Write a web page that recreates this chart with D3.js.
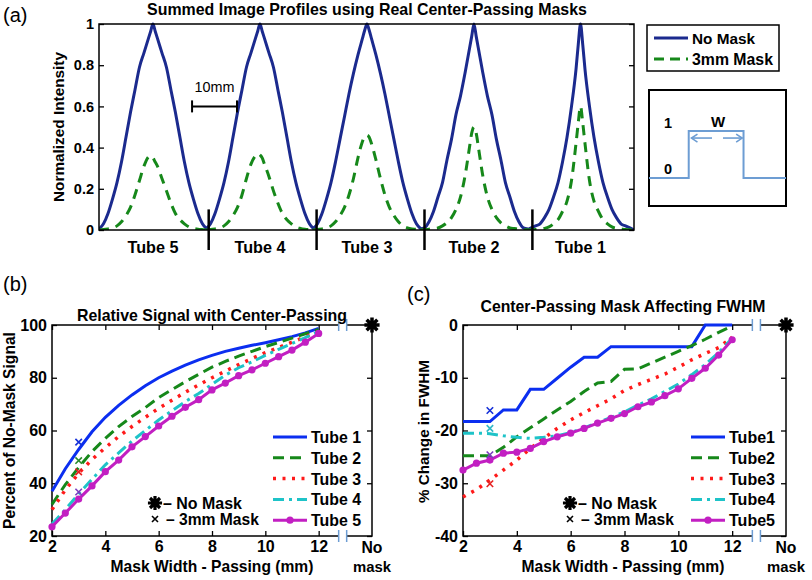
<!DOCTYPE html>
<html><head><meta charset="utf-8">
<script src="https://cdn.jsdelivr.net/npm/d3@7"></script>
<style>
body{margin:0;background:#fff;}
svg{display:block;font-family:"Liberation Sans",Arial,Helvetica,sans-serif;}
</style></head><body>
<svg id="chart" width="812" height="580"></svg>
<script>
// ---------------- DATA ----------------
// Panel (a): summed image profiles (offset from each tube centre, mm)
const profileOffsets = [-12,-11,-10,-9,-8,-7,-6,-5,-4,-3,-2,-1,-0.5,0,0.5,1,2,3,4,5,6,7,8,9,10,11,12];
const tubeNamesA = ["Tube 5","Tube 4","Tube 3","Tube 2","Tube 1"];
const tubeCentersA = [12, 35.8, 59.6, 83.4, 107.1];
const separatorsA = [24.4, 48.4, 72.4, 96.4];
const noMaskT5 = [0.005,0.03,0.08,0.15,0.23,0.33,0.45,0.57,0.68,0.79,0.86,0.93,0.965,1.0,0.965,0.93,0.86,0.79,0.68,0.57,0.45,0.33,0.23,0.15,0.08,0.03,0.005];
const noMaskT4 = [0.005,0.03,0.08,0.15,0.23,0.33,0.45,0.57,0.68,0.79,0.86,0.93,0.965,1.0,0.965,0.93,0.86,0.79,0.68,0.57,0.45,0.33,0.23,0.15,0.08,0.03,0.005];
const noMaskT3 = [0.005,0.03,0.08,0.15,0.23,0.33,0.44,0.55,0.66,0.76,0.85,0.93,0.97,1.0,0.97,0.93,0.85,0.76,0.66,0.55,0.44,0.33,0.23,0.15,0.08,0.03,0.005];
const noMaskT2 = [0.005,0.01,0.04,0.09,0.16,0.23,0.34,0.44,0.56,0.65,0.76,0.88,0.94,1.0,0.94,0.88,0.76,0.65,0.56,0.44,0.34,0.23,0.16,0.09,0.04,0.01,0.005];
const noMaskT1 = [0.0,0.01,0.02,0.03,0.06,0.1,0.16,0.23,0.33,0.45,0.6,0.78,0.9,1.0,0.9,0.78,0.6,0.45,0.33,0.23,0.16,0.1,0.06,0.03,0.02,0.01,0.0];
const mask3T5 = [0,0.003,0.005,0.01,0.02,0.04,0.07,0.11,0.17,0.24,0.31,0.355,0.36,0.35,0.33,0.31,0.25,0.19,0.13,0.08,0.05,0.03,0.015,0.008,0.004,0.002,0];
const mask3T4 = [0,0.003,0.005,0.01,0.02,0.04,0.07,0.11,0.17,0.25,0.32,0.36,0.37,0.365,0.35,0.32,0.26,0.19,0.13,0.08,0.05,0.03,0.015,0.008,0.004,0.002,0];
const mask3T3 = [0,0.003,0.005,0.01,0.02,0.04,0.07,0.11,0.17,0.25,0.35,0.43,0.455,0.46,0.45,0.42,0.34,0.25,0.17,0.11,0.07,0.04,0.02,0.01,0.005,0.003,0];
const mask3T2 = [0,0.002,0.004,0.007,0.01,0.02,0.035,0.06,0.1,0.16,0.26,0.4,0.47,0.5,0.47,0.4,0.26,0.16,0.1,0.06,0.035,0.02,0.01,0.007,0.004,0.002,0];
const mask3T1 = [0,0.001,0.002,0.005,0.008,0.015,0.03,0.05,0.09,0.14,0.24,0.42,0.52,0.6,0.52,0.42,0.24,0.14,0.09,0.05,0.03,0.015,0.008,0.005,0.002,0.001,0];
const yTicksA = [0,0.2,0.4,0.6,0.8,1];
const scaleBarMm = [20.7, 30.7];
const scaleBarLevel = 0.6;
const legendA = ["No Mask","3mm Mask"];
// inset: mask transmission profile
const maskProfileX = [0,0.29,0.29,0.69,0.69,1];
const maskProfileY = [0,0,1,1,0,0];

// Panels (b),(c)
const widths = [2,2.5,3,3.5,4,4.5,5,5.5,6,6.5,7,7.5,8,8.5,9,9.5,10,10.5,11,11.5,12];
const signalT1 = [37,45.5,52.8,59.5,65,69.5,73.5,77,80,82.5,84.8,86.8,88.5,90,91.2,92.3,93.3,94.4,95.6,97,98.7];
const signalT2 = [32,39.5,46,52,57,61.5,65.3,68.7,72.5,75.5,78.5,81.3,84,86.2,88.2,90,91.8,93.4,95,96.7,98.3];
const signalT3 = [30,37.5,43.8,49,53.5,57.7,61.5,65,68.4,71.5,74.5,77.3,80,82.5,85,87.3,89.5,91.5,93.5,95.5,97.5];
const signalT4 = [24.5,30,36,41.5,47,51.5,56,60,64,67.5,71,74,77.5,81,83.8,86,88.5,90.8,93,95.2,97.5];
const signalT5 = [23.5,28.7,34,39,44.4,48.8,53.8,57.7,61.7,65.4,68.8,71.7,75.4,78,80.8,83,85.5,88,90.5,93.5,96.8];
const fwhmT1 = [-18.3,-18.3,-18.3,-16.1,-16.1,-12.2,-12.2,-10.1,-8.0,-6.1,-6.1,-4.1,-4.1,-4.1,-4.1,-4.1,-4.1,-4.1,0,0,0];
const fwhmT2 = [-24.8,-24.8,-24.8,-23.2,-21.2,-19.5,-17.8,-16.1,-14.5,-12.6,-11,-10.7,-8.4,-8.3,-7.2,-6.1,-5,-3.9,-2.7,-1.4,-0.2];
const fwhmT3 = [-32.6,-31.2,-29.4,-27.5,-25.6,-23.4,-21.5,-19.6,-18,-16.6,-15.3,-14,-12.4,-11.3,-10.3,-9.3,-8,-6.6,-5.4,-4.3,-2.3];
const fwhmT4 = [-20.5,-20.5,-20.6,-21,-21.3,-21.5,-21.3,-21,-20.4,-19.5,-18.5,-17.5,-16.5,-15.2,-14,-12.6,-11.2,-9.4,-7.5,-5.2,-2.5];
const fwhmT5 = [-27.5,-26.2,-25.6,-24.3,-24.1,-23.4,-22.1,-21.2,-20.5,-19.6,-18.6,-17.7,-16.8,-15.5,-14.6,-13.4,-12.1,-10.1,-8.2,-5.7,-2.8];
const mask3mmWidth = 3;
const mask3mmSignal = [55.6, 48.6, 44.3, 36.7];
const mask3mmSignalTube = [0, 1, 2, 4];
const mask3mmFwhm = [-16.2, -19.6, -24.6, -30.1];
const mask3mmFwhmTube = [0, 3, 4, 2];
const noMaskX = 14, noMaskSignal = 100, noMaskFwhm = 0;
const breakAt = [12.75, 13.05];
const xTicksBC = [2,4,6,8,10,12];
const yTicksB = [20,40,60,80,100];
const yTicksC = [-40,-30,-20,-10,0];
const legendB = ["Tube 1","Tube 2","Tube 3","Tube 4","Tube 5"];
const legendC = ["Tube1","Tube2","Tube3","Tube4","Tube5"];

// ---------------- STYLE ----------------
const navy = "#1b2a8e", dGreen = "#16881a";
const tubeColors = ["#0b2ef0","#16881a","#ff1a1a","#1ec3c8","#c21fc2"];
const xMarkColors = ["#1530d8","#2a8a2a","#e62020","#30b8c8","#7a3cc0"];
const tubeDash = [null,"11,6","3,6.5","11,5,3,5",null];
const lightBlue = "#6d9dd3";
const FONT = '"Liberation Sans",Arial,Helvetica,sans-serif';

const svg = d3.select("#chart");

const starSym = {draw(ctx, size){const r=Math.sqrt(size)/2;for(let i=0;i<4;i++){const a=i*Math.PI/4;ctx.moveTo(r*Math.cos(a),r*Math.sin(a));ctx.lineTo(-r*Math.cos(a),-r*Math.sin(a));}}};
const xSym = {draw(ctx, size){const r=Math.sqrt(size)/2;ctx.moveTo(-r,-r);ctx.lineTo(r,r);ctx.moveTo(r,-r);ctx.lineTo(-r,r);}};

function styleAxis(g, fs){
  g.attr("font-family", FONT).attr("font-size", fs).attr("font-weight","bold");
  g.select(".domain").remove();
  g.selectAll(".tick line").attr("stroke","#000").attr("stroke-width",1.3);
  g.selectAll(".tick text").attr("fill","#000");
}
function fit(sel, target){
  const w = sel.node().getComputedTextLength();
  const fs = parseFloat(sel.attr("font-size"));
  if (w > 0) sel.attr("font-size", (fs*target/w).toFixed(2));
  return sel;
}
function txt(x,y,s,fs,opts={}){
  const t = svg.append("text").attr("x",x).attr("y",y).text(s)
    .attr("font-size",fs).attr("font-weight",opts.weight||"bold")
    .attr("text-anchor",opts.anchor||"start").attr("fill",opts.fill||"#000");
  if (opts.w) fit(t, opts.w);
  return t;
}
function vtxt(x,y,s,fs,w){
  const t = svg.append("text").attr("transform",`translate(${x},${y}) rotate(-90)`).attr("text-anchor","middle")
    .attr("font-size",fs).attr("font-weight","bold").text(s);
  if (w) fit(t,w);
  return t;
}

// ================= PANEL (a) =================
const A = {l:99, r:634, t:24, b:230};
const xA = d3.scaleLinear().domain([0,119]).range([A.l,A.r]);
const yA = d3.scaleLinear().domain([0,1]).range([A.b,A.t]);
svg.append("defs").append("clipPath").attr("id","clipA").append("rect")
  .attr("x",A.l).attr("y",A.t-5).attr("width",A.r-A.l).attr("height",A.b-A.t+5);

styleAxis(svg.append("g").attr("transform",`translate(${A.l},0)`)
  .call(d3.axisLeft(yA).tickValues(yTicksA).tickSizeInner(-5).tickSizeOuter(0).tickPadding(5).tickFormat(d=>String(d))), 14.5);
styleAxis(svg.append("g").attr("transform",`translate(${A.r},0)`)
  .call(d3.axisRight(yA).tickValues(yTicksA).tickSizeInner(-5).tickSizeOuter(0).tickFormat("")), 14);

const lineA = d3.line().x(d=>xA(d[0])).y(d=>yA(d[1])).curve(d3.curveMonotoneX);
const noMask = [noMaskT5,noMaskT4,noMaskT3,noMaskT2,noMaskT1];
const mask3 = [mask3T5,mask3T4,mask3T3,mask3T2,mask3T1];
const gA = svg.append("g").attr("clip-path","url(#clipA)");
tubeCentersA.forEach((c,i)=>{
  gA.append("path").attr("d",lineA(profileOffsets.map((o,j)=>[c+o,noMask[i][j]])))
    .attr("fill","none").attr("stroke",navy).attr("stroke-width",3);
});
tubeCentersA.forEach((c,i)=>{
  gA.append("path").attr("d",lineA(profileOffsets.map((o,j)=>[c+o,mask3[i][j]])))
    .attr("fill","none").attr("stroke",dGreen).attr("stroke-width",3).attr("stroke-dasharray","10,7");
});
svg.append("rect").attr("x",A.l).attr("y",A.t).attr("width",A.r-A.l).attr("height",A.b-A.t)
  .attr("fill","none").attr("stroke","#000").attr("stroke-width",1.5);

// separators & tube labels
separatorsA.forEach(s=>{
  svg.append("line").attr("x1",xA(s)).attr("x2",xA(s)).attr("y1",yA(0.1)).attr("y2",yA(0)+20)
    .attr("stroke","#000").attr("stroke-width",2.5);
});
const t5 = txt(xA(tubeCentersA[0]),253,tubeNamesA[0],15,{anchor:"middle", w:51});
const tubeFs = t5.attr("font-size");
tubeCentersA.slice(1).forEach((c,i)=> txt(xA(c),253,tubeNamesA[i+1],tubeFs,{anchor:"middle"}));

// scale bar
const sbY = yA(scaleBarLevel);
svg.append("line").attr("x1",xA(scaleBarMm[0])).attr("x2",xA(scaleBarMm[1])).attr("y1",sbY).attr("y2",sbY).attr("stroke","#000").attr("stroke-width",2);
scaleBarMm.forEach(m=>svg.append("line").attr("x1",xA(m)).attr("x2",xA(m)).attr("y1",sbY-6).attr("y2",sbY+6).attr("stroke","#000").attr("stroke-width",2));
txt((xA(scaleBarMm[0])+xA(scaleBarMm[1]))/2, sbY-14, "10mm", 14, {anchor:"middle", weight:"normal", w:40});

// title, panel tag, y label
txt(367,15,"Summed Image Profiles using Real Center-Passing Masks",14.5,{anchor:"middle", w:440});
txt(3,22,"(a)",20,{weight:"normal"});
vtxt(64,(A.t+A.b)/2,"Normalized Intensity",15,150);

// legend (a)
svg.append("rect").attr("x",647).attr("y",25).attr("width",132).attr("height",46).attr("fill","#fff").attr("stroke","#000").attr("stroke-width",1.5);
[[navy,null],[dGreen,"10,6"]].forEach((st,i)=>{
  const y = 38 + i*21;
  svg.append("line").attr("x1",654).attr("x2",688).attr("y1",y).attr("y2",y).attr("stroke",st[0]).attr("stroke-width",3).attr("stroke-dasharray",st[1]);
  txt(692,y+5.5,legendA[i],15,{w: i===0?63:81});
});

// inset
svg.append("rect").attr("x",649).attr("y",90).attr("width",137).attr("height",116).attr("fill","#fff").attr("stroke","#000").attr("stroke-width",2);
const xM = d3.scaleLinear().domain([0,1]).range([649,786]);
const yM = d3.scaleLinear().domain([0,1]).range([178,131]);
svg.append("path").attr("d",d3.line().x((d,i)=>xM(maskProfileX[i])).y(d=>yM(d))(maskProfileY))
  .attr("fill","none").attr("stroke",lightBlue).attr("stroke-width",2);
txt(668,128,"1",14.5,{anchor:"middle"});
txt(668,174,"0",14.5,{anchor:"middle"});
txt(718,127,"W",15,{anchor:"middle"});
const arY = yM(0.85);
function arrow(x1,x2){
  svg.append("line").attr("x1",x1).attr("x2",x2).attr("y1",arY).attr("y2",arY).attr("stroke",lightBlue).attr("stroke-width",1.6);
  const d = x2>x1?-1:1;
  svg.append("path").attr("d",`M${x2+d*6},${arY-4}L${x2},${arY}L${x2+d*6},${arY+4}`).attr("fill","none").attr("stroke",lightBlue).attr("stroke-width",1.6);
}
arrow(xM(0.46),xM(0.31)); arrow(xM(0.54),xM(0.68));

// ================= PANELS (b),(c) =================
function panel(cfg){
  const {l,r,t,b} = cfg.box;
  const x = d3.scaleLinear().domain([2,14]).range([l,r]);
  const y = d3.scaleLinear().domain(cfg.yDom).range([b,t]);
  styleAxis(svg.append("g").attr("transform",`translate(0,${b})`)
    .call(d3.axisBottom(x).tickValues(xTicksBC).tickSizeInner(-5).tickSizeOuter(0).tickPadding(5)), 16);
  styleAxis(svg.append("g").attr("transform",`translate(0,${t})`)
    .call(d3.axisTop(x).tickValues(xTicksBC).tickSizeInner(-5).tickSizeOuter(0).tickFormat("")), 16);
  styleAxis(svg.append("g").attr("transform",`translate(${l},0)`)
    .call(d3.axisLeft(y).tickValues(cfg.yTicks).tickSizeInner(-5).tickSizeOuter(0).tickPadding(5).tickFormat(d=>String(d))), 16);
  styleAxis(svg.append("g").attr("transform",`translate(${r},0)`)
    .call(d3.axisRight(y).tickValues(cfg.yTicks).tickSizeInner(-5).tickSizeOuter(0).tickFormat("")), 16);
  svg.append("rect").attr("x",l).attr("y",t).attr("width",r-l).attr("height",b-t)
    .attr("fill","none").attr("stroke","#000").attr("stroke-width",1.5);
  // axis breaks
  [t,b].forEach(yy=>{
    svg.append("rect").attr("x",x(breakAt[0])).attr("y",yy-2).attr("width",x(breakAt[1])-x(breakAt[0])).attr("height",4).attr("fill","#fff");
    breakAt.forEach(bx=>svg.append("line").attr("x1",x(bx)).attr("x2",x(bx)).attr("y1",yy-6).attr("y2",yy+6).attr("stroke",lightBlue).attr("stroke-width",1.5));
  });
  // series
  const ln = d3.line().x((d,i)=>x(widths[i])).y(d=>y(d));
  cfg.series.forEach((s,k)=>{
    svg.append("path").attr("d",ln(s)).attr("fill","none").attr("stroke",tubeColors[k])
      .attr("stroke-width",k===2?3.5:3).attr("stroke-dasharray",tubeDash[k]);
  });
  svg.append("g").selectAll("circle").data(cfg.series[4]).join("circle")
    .attr("cx",(d,i)=>x(widths[i])).attr("cy",d=>y(d)).attr("r",3.6).attr("fill",tubeColors[4]);
  // 3mm markers
  cfg.marks.forEach((v,i)=>{
    svg.append("path").attr("d",d3.symbol(xSym,42)()).attr("transform",`translate(${x(mask3mmWidth)},${y(v)})`)
      .attr("stroke",xMarkColors[cfg.markTubes[i]]).attr("stroke-width",1.6).attr("fill","none");
  });
  // no-mask star
  svg.append("path").attr("d",d3.symbol(starSym,230)()).attr("transform",`translate(${x(noMaskX)},${y(cfg.noMask)})`)
    .attr("stroke","#000").attr("stroke-width",3.5).attr("fill","none");
  // x labels
  txt(x(noMaskX),553,"No",16,{anchor:"middle", w:21});
  txt(x(noMaskX),572,"mask",16,{anchor:"middle", w:38});
  txt(cfg.xLabX,572,"Mask Width - Passing (mm)",16,{anchor:"middle", w:203});
  // legend
  cfg.legendNames.forEach((nm,k)=>{
    const yy = 437 + k*20.8;
    const lx1 = cfg.legX, lx2 = cfg.legX+34;
    svg.append("line").attr("x1",lx1).attr("x2",lx2).attr("y1",yy).attr("y2",yy).attr("stroke",tubeColors[k])
      .attr("stroke-width",k===2?3.5:3).attr("stroke-dasharray",tubeDash[k]);
    if(k===4) svg.append("circle").attr("cx",(lx1+lx2)/2).attr("cy",yy).attr("r",3.6).attr("fill",tubeColors[4]);
    txt(lx2+4,yy+6,nm,16,{w:cfg.legW});
  });
  svg.append("path").attr("d",d3.symbol(starSym,200)()).attr("transform",`translate(${cfg.symX},503)`)
    .attr("stroke","#000").attr("stroke-width",3.2).attr("fill","none");
  txt(cfg.symX+8,509,"– No Mask",16,{w:79});
  svg.append("path").attr("d",d3.symbol(xSym,36)()).attr("transform",`translate(${cfg.symX},519)`)
    .attr("stroke","#000").attr("stroke-width",1.6).attr("fill","none");
  txt(cfg.symX+11,525,"– 3mm Mask",16,{w:93});
  // title
  txt(cfg.titleX,cfg.titleY,cfg.title,14.5,{anchor:"middle", w:cfg.titleW});
  txt(cfg.tagX,cfg.tagY,cfg.tag,20,{weight:"normal"});
  vtxt(cfg.yLabX,(t+b)/2+cfg.yLabDy,cfg.yLab,15,cfg.yLabW);
}

panel({box:{l:52,r:372,t:325,b:536}, yDom:[20,100], yTicks:yTicksB,
  series:[signalT1,signalT2,signalT3,signalT4,signalT5], marks:mask3mmSignal, markTubes:mask3mmSignalTube,
  noMask:noMaskSignal, legendNames:legendB, legX:273, legW:50, symX:155, xLabX:212,
  title:"Relative Signal with Center-Passing", titleX:212, titleY:321, titleW:270, tag:"(b)", tagX:3, tagY:291,
  yLab:"Percent of No-Mask Signal", yLabX:15, yLabW:197, yLabDy:0});
panel({box:{l:463,r:786,t:325,b:536}, yDom:[-40,0], yTicks:yTicksC,
  series:[fwhmT1,fwhmT2,fwhmT3,fwhmT4,fwhmT5], marks:mask3mmFwhm, markTubes:mask3mmFwhmTube,
  noMask:noMaskFwhm, legendNames:legendC, legX:691, legW:46, symX:570, xLabX:623,
  title:"Center-Passing Mask Affecting FWHM", titleX:623, titleY:312, titleW:285, tag:"(c)", tagX:407, tagY:301,
  yLab:"% Change in FWHM", yLabX:429, yLabW:143, yLabDy:1});
</script>
</body></html>
